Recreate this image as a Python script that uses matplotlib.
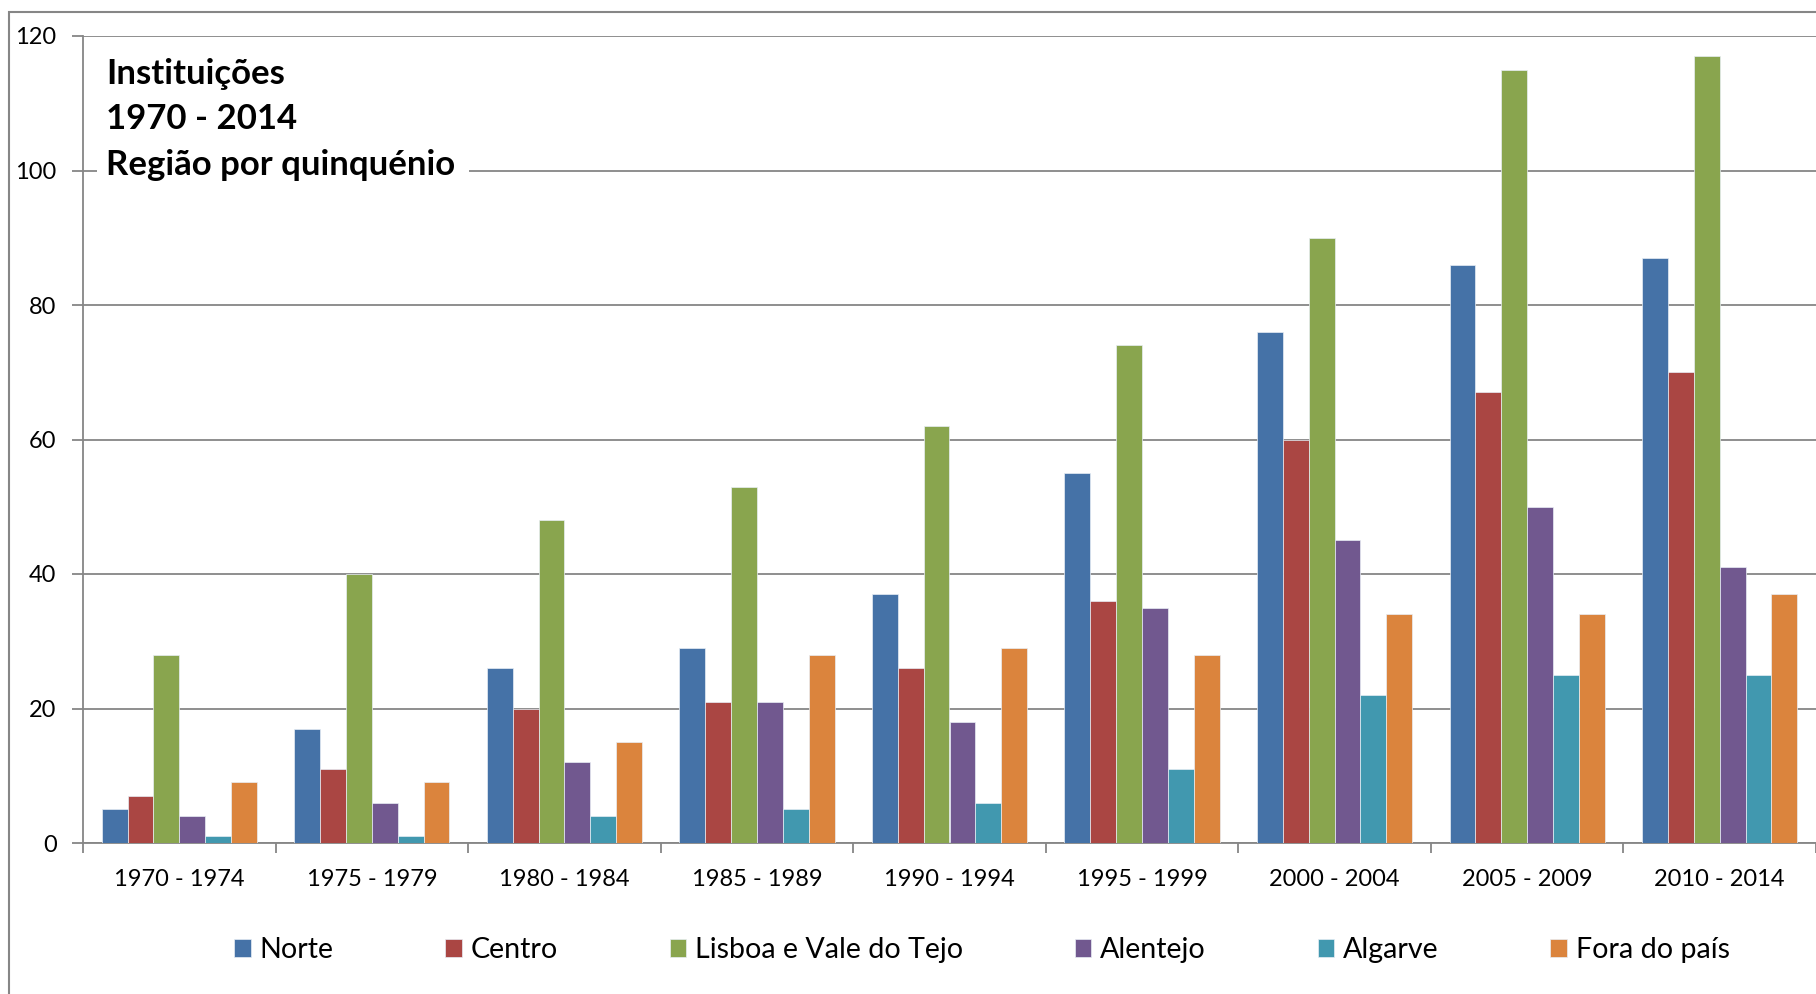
import matplotlib.pyplot as plt
import numpy as np
from matplotlib.patches import Rectangle

periods = ["1970 - 1974", "1975 - 1979", "1980 - 1984", "1985 - 1989", "1990 - 1994",
           "1995 - 1999", "2000 - 2004", "2005 - 2009", "2010 - 2014"]
regions = ["Norte", "Centro", "Lisboa e Vale do Tejo", "Alentejo", "Algarve", "Fora do país"]

norte = [5, 17, 26, 29, 37, 55, 76, 86, 87]
centro = [7, 11, 20, 21, 26, 36, 60, 67, 70]
lisboa = [28, 40, 48, 53, 62, 74, 90, 115, 117]
alentejo = [4, 6, 12, 21, 18, 35, 45, 50, 41]
algarve = [1, 1, 4, 5, 6, 11, 22, 25, 25]
fora = [9, 9, 15, 28, 29, 28, 34, 34, 37]

series = [norte, centro, lisboa, alentejo, algarve, fora]
colors = ['#4572A7', '#AA4643', '#89A54E', '#71588F', '#4198AF', '#DB843D']

title_lines = ["Instituições", "1970 - 2014", "Região por quinquénio"]

plt.rcParams['font.family'] = ['Lato', 'DejaVu Sans']

W, H = 1816, 994
fig = plt.figure(figsize=(W / 100, H / 100), dpi=100)
ax = fig.add_axes([83 / W, 151 / H, 1 - 83 / W, 807 / H])

grey = '#868686'

# outer chart border (runs off right and bottom edges)
fig.patches.append(Rectangle((9 / W, -0.1), 1.2, 1.1 - 12 / H, transform=fig.transFigure,
                             fill=False, edgecolor=grey, lw=1.5))

x = np.arange(len(periods))
bw = 1 / 7.44
for i, (vals, name, c) in enumerate(zip(series, regions, colors)):
    ax.bar(x + (i - 2.5) * bw, vals, width=bw, color=c, edgecolor='#e8eef5',
           linewidth=0.5, label=name, zorder=3)

ax.set_xlim(-0.5, len(periods) - 0.5)
ax.set_ylim(0, 120)
ax.set_yticks(range(0, 121, 20))
ax.yaxis.grid(True, color=grey, lw=1.3, zorder=1)
ax.set_axisbelow(True)

ax.set_xticks(x)
ax.set_xticklabels(periods, fontsize=17)
ax.set_xticks(np.arange(len(periods) + 1) - 0.5, minor=True)
ax.tick_params(axis='x', which='major', length=0, pad=19)
ax.tick_params(axis='x', which='minor', length=7, color=grey, width=1.3)
ax.tick_params(axis='y', length=8, color=grey, width=1.3, labelsize=17, pad=11)

for s in ['top', 'right']:
    ax.spines[s].set_visible(False)
for s in ['left', 'bottom']:
    ax.spines[s].set_color(grey)
    ax.spines[s].set_linewidth(1.3)

# title box, white background hiding the gridline
fig.patches.append(Rectangle((97 / W, 1 - 188 / H), 372 / W, 140 / H,
                             transform=fig.transFigure, facecolor='white',
                             edgecolor='none', zorder=2))
for line, base in zip(title_lines, [84, 129, 175]):
    fig.text(106 / W, 1 - base / H, line, fontsize=25, fontweight='bold',
             va='baseline', ha='left', zorder=5)

fig.legend(loc='center', bbox_to_anchor=(982 / W, 1 - 950 / H), ncol=6, frameon=False,
           fontsize=20.6, handlelength=0.57, handleheight=0.57, handletextpad=0.32,
           columnspacing=3.9)

fig.savefig('out.png', dpi=100)
